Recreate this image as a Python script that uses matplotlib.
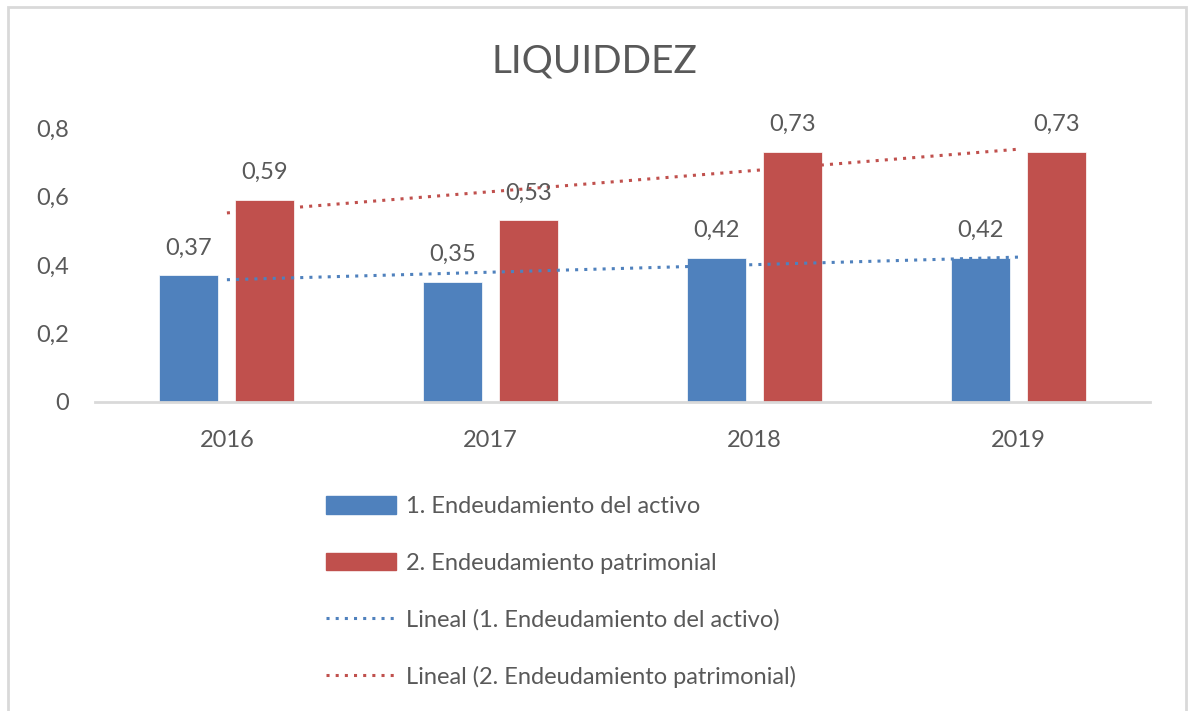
import numpy as np
import matplotlib.pyplot as plt
from matplotlib.patches import Rectangle
from matplotlib.lines import Line2D

# datos
years = ["2016", "2017", "2018", "2019"]
activo = [0.37, 0.35, 0.42, 0.42]
patrimonial = [0.59, 0.53, 0.73, 0.73]
labels = ["1. Endeudamiento del activo", "2. Endeudamiento patrimonial"]

blue = "#4F81BD"
red = "#C0504D"
gray_txt = "#595959"

plt.rcParams['font.family'] = ['Lato', 'DejaVu Sans']

fig = plt.figure(figsize=(11.88, 7.11), dpi=100)
ax = fig.add_axes([0.08, 0.4346, 0.888, 0.3854])

x = np.arange(len(years))
w = 0.224
off = 0.144
b1 = ax.bar(x - off, activo, w, color=blue, edgecolor="white", linewidth=0.5)
b2 = ax.bar(x + off, patrimonial, w, color=red, edgecolor="white", linewidth=0.5)

# lineas de tendencia (ajuste lineal)
for vals, c in [(activo, blue), (patrimonial, red)]:
    p = np.polyfit(x, vals, 1)
    ax.plot(x, np.polyval(p, x), color=c, lw=2.2, linestyle=(0, (1, 2)))

# etiquetas de datos
for bars, vals in [(b1, activo), (b2, patrimonial)]:
    for r, v in zip(bars, vals):
        ax.annotate(f"{v:.2f}".replace(".", ","),
                    (r.get_x() + r.get_width() / 2, v),
                    xytext=(0, 15), textcoords="offset points",
                    ha="center", va="baseline", fontsize=17, color=gray_txt,
                    annotation_clip=False)

ax.set_xlim(-0.5, 3.5)
ax.set_ylim(0, 0.8)
ax.set_xticks(x)
ax.set_xticklabels(years)
ax.set_yticks([0, 0.2, 0.4, 0.6, 0.8])
ax.set_yticklabels(["0", "0,2", "0,4", "0,6", "0,8"])
ax.tick_params(axis="both", length=0, labelsize=17, labelcolor=gray_txt)
ax.tick_params(axis="x", pad=20)
ax.tick_params(axis="y", pad=19)
for s in ["top", "right", "left"]:
    ax.spines[s].set_visible(False)
ax.spines["bottom"].set_color("#D9D9D9")
ax.spines["bottom"].set_linewidth(2)

fig.text(0.5, 0.913, "LIQUIDDEZ", ha="center", va="center", fontsize=28, color=gray_txt)

# leyenda
handles = [
    Rectangle((0, 0), 1, 1, color=blue),
    Rectangle((0, 0), 1, 1, color=red),
    Line2D([], [], color=blue, lw=2.2, linestyle=(0, (1, 2))),
    Line2D([], [], color=red, lw=2.2, linestyle=(0, (1, 2))),
]
leg_labels = labels + [f"Lineal ({labels[0]})", f"Lineal ({labels[1]})"]
leg = fig.legend(handles, leg_labels, loc="upper left", bbox_to_anchor=(0.274, 0.302),
                 frameon=False, fontsize=17, handlelength=3.0, handleheight=0.78,
                 handletextpad=0.4, labelspacing=1.49, borderpad=0, borderaxespad=0)
for t in leg.get_texts():
    t.set_color(gray_txt)

# borde del grafico
fig.add_artist(Rectangle((0.007, -0.01), 0.991, 1.0, transform=fig.transFigure,
                         fill=False, edgecolor="#D9D9D9", linewidth=2))

fig.savefig("out.png", dpi=100)
